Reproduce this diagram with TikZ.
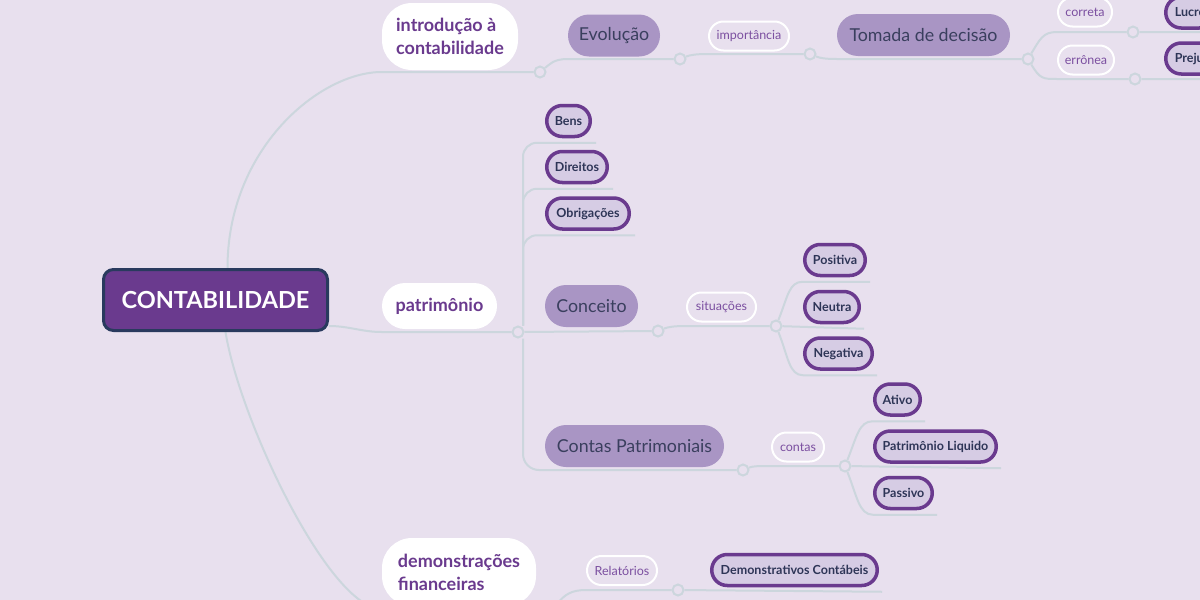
\documentclass[tikz,border=0pt]{standalone}
\usepackage{fontspec}
\setmainfont{Lato}
\usetikzlibrary{positioning}
\definecolor{bgcol}{HTML}{E8E0EE}
\definecolor{linecol}{HTML}{CCD6DD}
\definecolor{rootfill}{HTML}{6A3A8E}
\definecolor{rootedge}{HTML}{293A5E}
\definecolor{topictext}{HTML}{6A3A8E}
\definecolor{subfill}{HTML}{A995C4}
\definecolor{subtext}{HTML}{3A3F5E}
\definecolor{labeltext}{HTML}{7B4FA0}
\definecolor{leaffill}{HTML}{D6CCE4}
\definecolor{leafedge}{HTML}{6A3A8E}
\definecolor{leaftext}{HTML}{2E3557}
\pgfdeclarelayer{edges}
\pgfsetlayers{edges,main}

\begin{document}
\begin{tikzpicture}[x=1pt,y=-1pt,
  root/.style={draw=rootedge,line width=3pt,fill=rootfill,rounded corners=10pt,text=white,font=\bfseries\fontsize{23.5}{28}\selectfont,minimum width=224pt,minimum height=61pt,inner sep=0pt},
  topic/.style={fill=white,rounded corners=23pt,text=topictext,font=\bfseries\fontsize{18}{23}\selectfont,inner sep=0pt,align=left},
  sub/.style={fill=subfill,rounded corners=21pt,text=subtext,font=\fontsize{17.8}{20}\selectfont,inner sep=0pt,minimum height=42pt},
  lbl/.style={fill=bgcol,draw=white,line width=2pt,rounded corners=14.5pt,text=labeltext,font=\fontsize{12.5}{14}\selectfont,inner sep=0pt,minimum height=29pt},
  leaf/.style={fill=leaffill,draw=leafedge,line width=3.5pt,rounded corners=15.5pt,text=leaftext,font=\bfseries\fontsize{12.5}{14}\selectfont,inner sep=0pt,minimum height=31pt},
  knot/.style={circle,fill=bgcol,draw=linecol,line width=2pt,minimum size=11pt,inner sep=0pt},
  wire/.style={draw=linecol,line width=2pt}]
\useasboundingbox (0,0) rectangle (1200,600);

% centre and topics
\node[root] (ctb) at (215.5,300) {CONTABILIDADE};
\node[topic,rounded corners=30pt,minimum width=136pt,minimum height=67pt] (intro) at (450,36.5) {introdução à\\contabilidade};
\node[topic,minimum width=115pt,minimum height=46pt] (patr) at (439.5,306) {patrimônio};
\node[topic,rounded corners=30pt,minimum width=154pt,minimum height=68pt] (demo) at (459,572) {demonstrações\\financeiras};

% subtopics
\node[sub,minimum width=92pt] (evol) at (614,35.5) {Evolução};
\node[sub,minimum width=173pt] (tomada) at (923.5,35) {Tomada de decisão};
\node[sub,minimum width=93pt] (conceito) at (591.5,306) {Conceito};
\node[sub,minimum width=179pt] (contasp) at (634.5,446) {Contas Patrimoniais};

% labels
\foreach \t/\nm/\x/\y/\w in {importância/importancia/749/36/80, correta/correta/1085/12/54, errônea/erronea/1086/60/56, situações/situacoes/721.5/307/69, contas/contas/798/447/52, Relatórios/relatorios/622/570.5/70}
  \node[lbl,minimum width=\w pt] (\nm) at (\x,\y) {\t};

% leaves
\foreach \t/\nm/\x/\y/\w in {Bens/bens/568.5/121/43.5, Direitos/direitos/577/167/60.5, Obrigações/obrig/588/213.5/82.5, Positiva/positiva/835/260/60.5, Neutra/neutra/832/307/54.5, Negativa/negativa/838.5/353.5/67.5, Ativo/ativo/897.5/399.5/45.5, Patrimônio Liquido/pl/935.5/446.5/121.5, Passivo/passivo/903.5/493/57.5, Demonstrativos Contábeis/dc/794.5/570/165.5}
  \node[leaf,minimum width=\w pt] (\nm) at (\x,\y) {\t};
\node[leaf,anchor=west,inner xsep=9pt] (lucro) at (1164,12.5) {Lucro};
\node[leaf,anchor=west,inner xsep=9pt] (prejuizo) at (1164,58.5) {Prejuízo};

% junctions
\node[knot] (j1) at (540,72) {};
\node[knot] (j2) at (680,59) {};
\node[knot] (j3) at (810,54) {};
\node[knot] (j4) at (1028,59) {};
\node[knot] (j5) at (1133,32) {};
\node[knot] (j6) at (1135,79) {};
\node[knot] (jp) at (518,332) {};
\node[knot] (jc) at (658,331) {};
\node[knot] (js) at (776,326) {};
\node[knot] (jcp) at (743,470) {};
\node[knot] (jk) at (845,466) {};
\node[knot] (jd) at (553,609) {};
\node[knot] (jr) at (678,590) {};

\begin{pgfonlayer}{edges}
\fill[bgcol] (0,0) rectangle (1200,600);
% from the centre
\draw[wire] ([xshift=12pt]ctb.north) .. controls +(0,-119.5) and +(-62,0) .. (intro.south west |- j1) -- (j1);
\draw[wire] ([yshift=-26pt]ctb.east) .. controls +(20,0) and +(-20,0) .. (patr.south west |- jp) -- (jp);
\draw[wire] ([xshift=10pt]ctb.south) .. controls +(14.5,89.5) and +(-52,0) .. (demo.south west |- jd) -- (jd);
% introducao
\draw[wire] (j1) .. controls +(10,-8) and +(-14,0) .. (evol.south west |- j2) -- (j2);
\draw[wire] (j2) .. controls +(10,-4) and +(-12,0) .. (importancia.south west |- j3) -- (j3);
\draw[wire] (j3) .. controls +(10,4) and +(-12,0) .. (tomada.south west |- j4) -- (j4);
\draw[wire] (j4) .. controls +(12,-20) and +(-14,0) .. (correta.south west |- j5) -- (j5) -- (lucro.east |- j5);
\draw[wire] (j4) .. controls +(12,20) and +(-14,0) .. (erronea.south west |- j6) -- (j6) -- (prejuizo.east |- j6);
% patrimonio
\foreach \nm in {bens,direitos,obrig}
  \draw[wire,rounded corners=14pt] ([xshift=5pt]jp.north) |- ([xshift=4pt,yshift=-4.5pt]\nm.south east);
\draw[wire] (jp) -- (jc);
\draw[wire,rounded corners=16pt] ([xshift=5pt]jp.south) |- (jcp);
\draw[wire] (jc) .. controls +(10,-4) and +(-12,0) .. (situacoes.south west |- js) -- (js);
\draw[wire] (js) .. controls +(12,-30) and +(-14,0) .. ([yshift=-4.5pt]positiva.south west) -- ([xshift=3pt,yshift=-4.5pt]positiva.south east);
\draw[wire] (js) -- ([xshift=3pt,yshift=-4.5pt]neutra.south east);
\draw[wire] (js) .. controls +(12,30) and +(-14,0) .. ([yshift=-4.5pt]negativa.south west) -- ([xshift=3pt,yshift=-4.5pt]negativa.south east);
\draw[wire] (jcp) .. controls +(10,-4) and +(-12,0) .. (contas.south west |- jk) -- (jk);
\draw[wire] (jk) .. controls +(12,-30) and +(-14,0) .. ([yshift=-4.5pt]ativo.south west) -- ([xshift=3pt,yshift=-4.5pt]ativo.south east);
\draw[wire] (jk) -- ([xshift=3pt,yshift=-4.5pt]pl.south east);
\draw[wire] (jk) .. controls +(12,30) and +(-14,0) .. ([yshift=-4.5pt]passivo.south west) -- ([xshift=3pt,yshift=-4.5pt]passivo.south east);
% demonstracoes
\draw[wire] (jd) .. controls +(12,-15) and +(-14,0) .. (relatorios.south west |- jr) -- (jr) -- ([xshift=3pt,yshift=-4.5pt]dc.south east);
\end{pgfonlayer}
\end{tikzpicture}
\end{document}
